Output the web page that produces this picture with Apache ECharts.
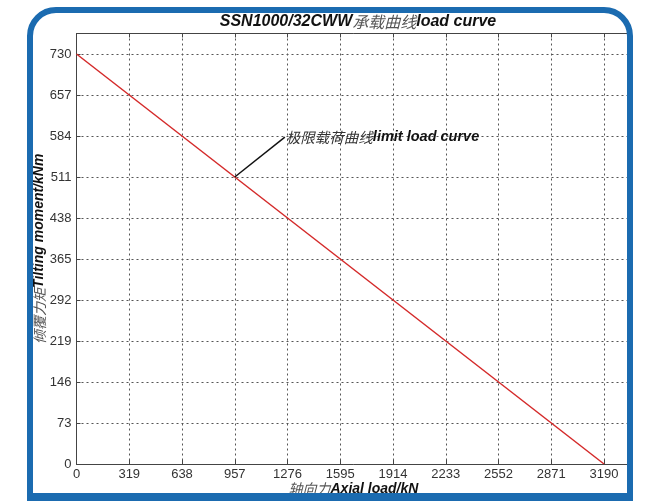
<!DOCTYPE html>
<html><head><meta charset="utf-8">
<script src="https://cdn.jsdelivr.net/npm/echarts@6/dist/echarts.min.js"></script>
<style>html,body{margin:0;padding:0;background:#fff}#c{width:648px;height:501px}</style>
</head><body><div id="c"></div>
<script>
// ---- data ----
const titleModel = 'SSN1000/32CWW';
const titleCn = '承载曲线';
const titleEn = 'load curve';
const xTicks = [0, 319, 638, 957, 1276, 1595, 1914, 2233, 2552, 2871, 3190];
const yTicks = [0, 73, 146, 219, 292, 365, 438, 511, 584, 657, 730];
const axialLoad = [0, 3190];
const tiltingMoment = [730, 0];
const annotAnchor = [957, 511];
const annotTextAt = [1260, 582];
const annotCn = '极限载荷曲线';
const annotEn = 'limit load curve';
const xNameCn = '轴向力', xNameEn = 'Axial load/kN';
const yNameCn = '倾覆力矩', yNameEn = 'Tilting moment/kNm';

const chart = echarts.init(document.getElementById('c'), null, {renderer: 'canvas'});
const cnStyle = {fontFamily: 'Noto Sans CJK SC', fontStyle: 'italic', fontWeight: 'normal', color: '#555'};
const enStyle = {fontFamily: 'Liberation Sans', fontStyle: 'italic', fontWeight: 'bold', color: '#111'};
const gridLine = {show: true, lineStyle: {color: '#555', type: [2, 3], width: 1}};

chart.setOption({
  animation: false,
  backgroundColor: '#fff',
  title: {
    text: '{e|' + titleModel + '}{c|' + titleCn + '}{e|' + titleEn + '}',
    left: 353, top: 9, textAlign: 'center',
    textStyle: {rich: {
      e: Object.assign({}, enStyle, {fontSize: 16}),
      c: Object.assign({}, cnStyle, {fontSize: 16})
    }}
  },
  grid: {left: 76.5, top: 33.5, right: 17.6, bottom: 36.5, containLabel: false},
  xAxis: [{
    type: 'value', min: 0, max: 3349.5, interval: 319,
    axisLine: {show: true, lineStyle: {color: '#444', width: 1}},
    axisTick: {show: true, inside: true, length: 4, lineStyle: {color: '#444'}},
    axisLabel: {color: '#333', fontSize: 13, fontFamily: 'Liberation Sans', margin: 4,
      formatter: v => xTicks.indexOf(v) >= 0 ? String(v) : ''},
    splitLine: gridLine,
    name: '{c|' + xNameCn + '}{e|' + xNameEn + '}',
    nameLocation: 'middle', nameGap: 18, nameMoveOverlap: false,
    nameTextStyle: {rich: {
      e: Object.assign({}, enStyle, {fontSize: 14}),
      c: Object.assign({}, cnStyle, {fontSize: 14})
    }}
  }, {
    type: 'value', position: 'top', min: 0, max: 3349.5, interval: 319,
    axisLine: {show: true, onZero: false, lineStyle: {color: '#444', width: 1}},
    axisTick: {show: true, inside: true, length: 4, lineStyle: {color: '#444'}},
    axisLabel: {show: false}, splitLine: {show: false}
  }],
  yAxis: [{
    type: 'value', min: 0, max: 766.5, interval: 73,
    axisLine: {show: true, lineStyle: {color: '#444', width: 1}},
    axisTick: {show: true, inside: true, length: 4, lineStyle: {color: '#444'}},
    axisLabel: {color: '#333', fontSize: 13, fontFamily: 'Liberation Sans', margin: 5,
      formatter: v => yTicks.indexOf(v) >= 0 ? String(v) : ''},
    splitLine: gridLine,
    name: '{c|' + yNameCn + '}{e|' + yNameEn + '}',
    nameLocation: 'middle', nameGap: 30, nameRotate: 90, nameMoveOverlap: false,
    nameTextStyle: {rich: {
      e: Object.assign({}, enStyle, {fontSize: 14}),
      c: Object.assign({}, cnStyle, {fontSize: 14})
    }}
  }],
  series: [{
    type: 'line',
    data: axialLoad.map((x, i) => [x, tiltingMoment[i]]),
    symbol: 'none',
    lineStyle: {color: '#d42a2a', width: 1.5},
    z: 3,
    markLine: {
      silent: true, symbol: ['none', 'none'],
      lineStyle: {color: '#111', type: 'solid', width: 1.5},
      label: {show: false},
      data: [[{coord: annotAnchor}, {coord: annotTextAt}]]
    },
    markPoint: {
      silent: true, symbol: 'circle', symbolSize: 0,
      label: {
        show: true, position: 'right', distance: 1,
        formatter: '{c|' + annotCn + '}{e|' + annotEn + '}',
        rich: {
          e: Object.assign({}, enStyle, {fontSize: 14.5}),
          c: Object.assign({}, cnStyle, {fontSize: 14.5, color: '#333'})
        }
      },
      data: [{coord: annotTextAt}]
    }
  }],
  graphic: [
    {type: 'rect', shape: {x: 30, y: 10, width: 600, height: 620, r: 26},
     style: {fill: 'none', stroke: '#1b6bb0', lineWidth: 6}, z: 100, silent: true},
    {type: 'rect', shape: {x: 27, y: 493, width: 606, height: 8},
     style: {fill: '#1b6bb0'}, z: 100, silent: true},
    {type: 'rect', shape: {x: 633, y: 0, width: 15, height: 501},
     style: {fill: '#fff'}, z: 99, silent: true}
  ]
});
</script></body></html>
